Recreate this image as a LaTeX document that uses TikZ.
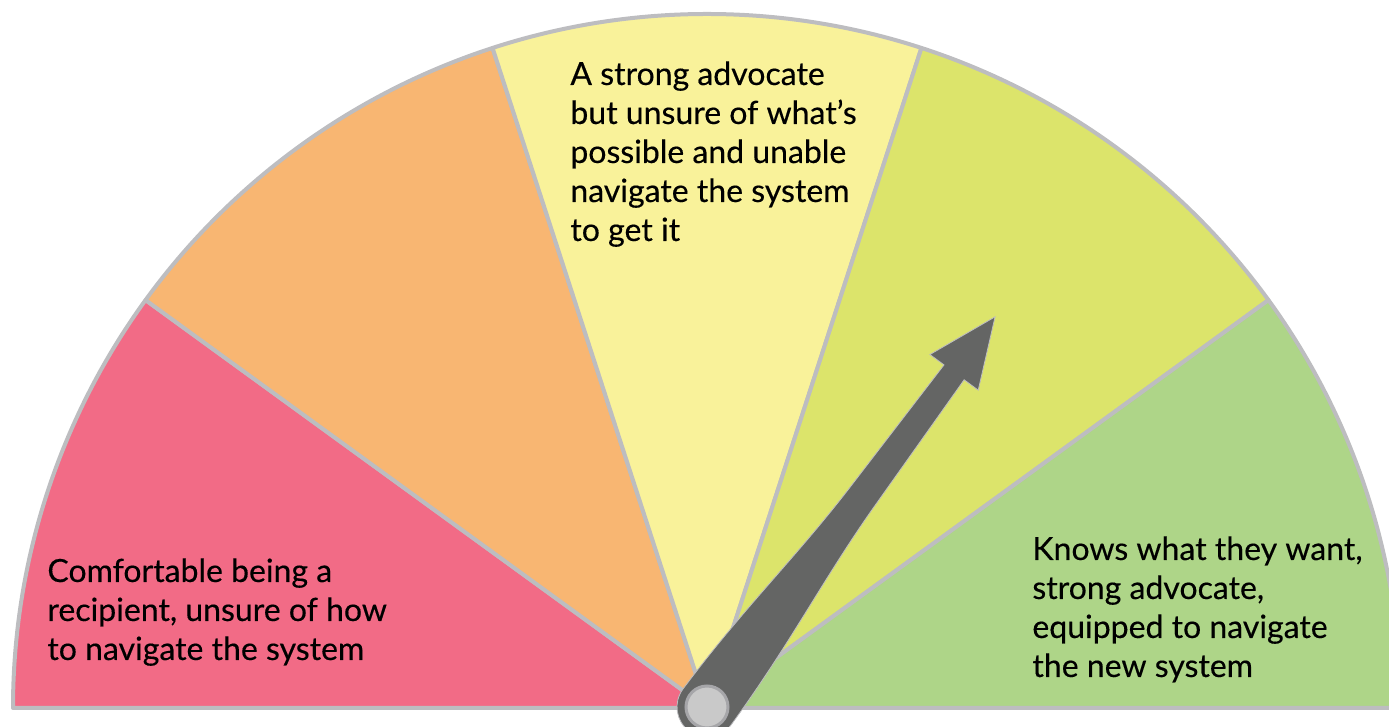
\documentclass[tikz,border=0pt]{standalone}
\usepackage{fontspec}
\setmainfont{Lato}
\newfontfamily\gaugefont{Lato}[FakeBold=0.3]
\definecolor{cRed}{HTML}{F26B86}
\definecolor{cOrange}{HTML}{F8B672}
\definecolor{cYellow}{HTML}{F9F29A}
\definecolor{cLime}{HTML}{DCE46B}
\definecolor{cGreen}{HTML}{AED588}
\definecolor{cBorder}{HTML}{BDBDC0}
\definecolor{cArrow}{HTML}{646564}
\definecolor{cPivot}{HTML}{C9C9C9}
\definecolor{cPivotLine}{HTML}{A6A6A9}
\tikzset{
  sector/.style={draw=cBorder, line width=2pt, line join=round},
  label/.style={anchor=base west, inner sep=0pt, align=left, text=black,
    font=\gaugefont\fontsize{16}{19.5}\selectfont},
}
\begin{document}
\begin{tikzpicture}[x=0.5pt,y=0.5pt]
\useasboundingbox (0,0) rectangle (1389,727);
\coordinate (C) at (707,19);
\def\R{694}
\begin{scope}
\clip (0,0) rectangle (1389,727);
\filldraw[sector, fill=cRed]    (C) -- ++(180:\R) arc[start angle=180, end angle=144, radius=\R] -- cycle;
\filldraw[sector, fill=cOrange] (C) -- ++(144:\R) arc[start angle=144, end angle=108, radius=\R] -- cycle;
\filldraw[sector, fill=cYellow] (C) -- ++(108:\R) arc[start angle=108, end angle=72, radius=\R] -- cycle;
\filldraw[sector, fill=cLime]   (C) -- ++(72:\R) arc[start angle=72, end angle=36, radius=\R] -- cycle;
\filldraw[sector, fill=cGreen]  (C) -- ++(36:\R) arc[start angle=36, end angle=0, radius=\R] -- cycle;
\end{scope}

\node[label] (red) at (47,67) {Comfortable being a\\recipient, unsure of how\\to navigate the system};
\node[label] (yellow) at (570,486) {A strong advocate\\but unsure of what’s\\possible and unable\\navigate the system\\to get it};
\node[label] (green) at (1032,50) {Knows what they want,\\strong advocate,\\equipped to navigate\\the new system};

\coordinate (P) at (707,20);
\begin{scope}[shift={(P)}, rotate=53.56]
\filldraw[fill=cArrow, draw=cBorder, line width=0.4pt, line join=miter]
  (0,30) .. controls (100,29.5) and (170,17.5) .. (260,15.5) -- (416,12.5) -- (416,30) -- (485,0)
  -- (416,-30) -- (416,-12.5) -- (260,-15.5) .. controls (170,-17.5) and (100,-29.5) .. (0,-30)
  arc[start angle=-90, end angle=-270, radius=30] -- cycle;
\coordinate (tip) at (485,0);
\end{scope}
\node[circle, fill=cPivot, draw=cPivotLine, line width=1.5pt, minimum size=21pt, inner sep=0pt] (pivot) at (P) {};
\end{tikzpicture}
\end{document}
